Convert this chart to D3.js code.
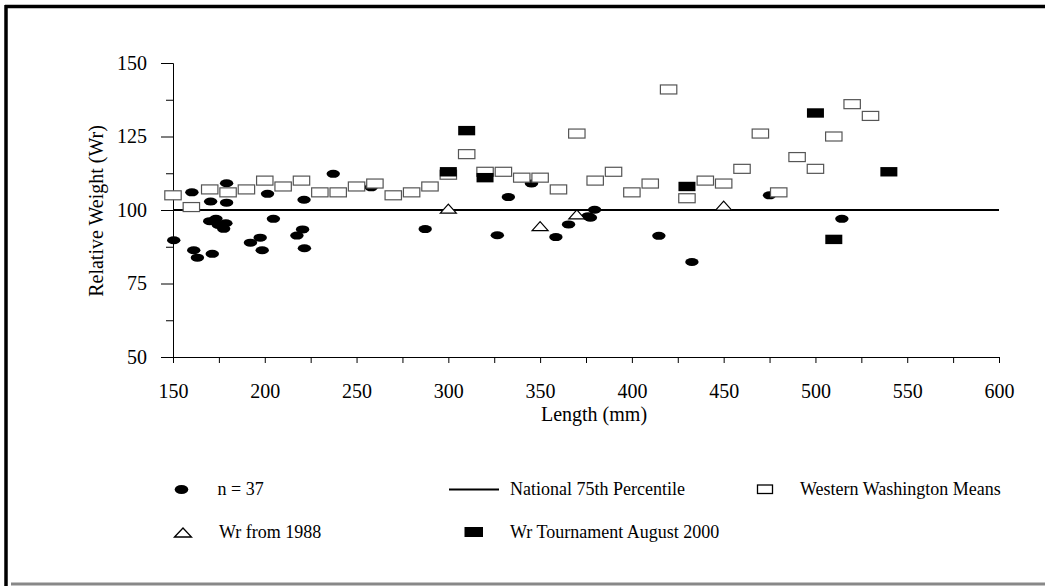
<!DOCTYPE html>
<html><head><meta charset="utf-8">
<script src="https://cdn.jsdelivr.net/npm/d3@7"></script>
<style>
body{margin:0;background:#fff}
svg{display:block}
text{font-family:"Liberation Serif","Times New Roman",serif;fill:#000}
</style>
</head><body>
<svg id="c" width="1045" height="586"></svg>
<script>
// n = 37 sample fish
const sampleLength = [150.4,160.3,170.5,179.2,179.2,161.3,163.3,171.4,170,173.4,174.7,177.6,178.8,192.2,197.5,198.6,204.7,201.5,221.4,217.5,220.6,221.6,237.3,258,287.4,332.7,326.7,345.3,358.6,365.5,377.4,376.2,379.7,414.7,432.7,475,514.4];
const sampleWr     = [89.7,106,102.9,109.1,102.5,86.3,83.8,85.1,96.2,97,94.9,93.6,95.5,88.9,90.6,86.3,97,105.5,103.5,91.3,93.4,87,112.3,107.7,93.5,104.4,91.4,109,90.8,95.1,97.4,97.9,100.1,91.2,82.3,105,97];
// National 75th percentile
const nationalLength = [150,600];
const nationalWr = [100,100];
// Western Washington means
const wwLength = [150,160,170,180,190,200,210,220,230,240,250,260,270,280,290,300,310,320,330,340,350,360,370,380,390,400,410,420,430,440,450,460,470,480,490,500,510,520,530];
const wwWr     = [105,101,107,106,107,110,108,110,106,106,108,109,105,106,108,112,119,113,113,111,111,107,126,110,113,106,109,141,104,110,109,114,126,106,118,114,125,136,132];
// Wr from 1988
const y1988Length = [300,350,370,450];
const y1988Wr = [100.5,94.5,98.5,101.5];
// Wr Tournament August 2000
const tournLength = [300,310,320,430,500,510,540];
const tournWr = [113,127,111,108,133,90,113];
// ticks
const xMajorTicks = [150,200,250,300,350,400,450,500,550,600];
const xMinorTicks = [175,225,275,325,375,425,475,525,575];
const yMajorTicks = [50,75,100,125,150];
const yMinorTicks = [62.5,87.5,112.5,137.5];
const legendLabels = ["n = 37","National 75th Percentile","Western Washington Means","Wr from 1988","Wr Tournament August 2000"];

const svg = d3.select("#c");
const x = d3.scaleLinear().domain([150,600]).range([173,999]);
const y = d3.scaleLinear().domain([50,150]).range([357,63]);

// frame
svg.append("rect").attr("x",0).attr("y",0).attr("width",1045).attr("height",586).attr("fill","#fff");
svg.append("line").attr("x1",5).attr("x2",1045).attr("y1",6.5).attr("y2",6.5).attr("stroke","#000").attr("stroke-width",3.5);
svg.append("line").attr("x1",6).attr("x2",6).attr("y1",5).attr("y2",586).attr("stroke","#000").attr("stroke-width",3.5);
svg.append("line").attr("x1",11).attr("x2",1045).attr("y1",584).attr("y2",584).attr("stroke","#888").attr("stroke-width",3);

// axes
const gx = svg.append("g").attr("transform","translate(0,357)");
gx.call(d3.axisBottom(x).tickValues(xMajorTicks).tickSize(6).tickSizeOuter(0));
gx.append("g").call(d3.axisBottom(x).tickValues(xMinorTicks).tickSize(6).tickSizeOuter(0).tickFormat(""));
gx.selectAll(".domain").attr("stroke","#000");
gx.selectAll("line").attr("stroke","#000");
gx.selectAll("text").attr("font-size",20).attr("y",41).attr("dy",0).attr("font-family","Liberation Serif").attr("fill","#000");

const gy = svg.append("g").attr("transform","translate(173,0)");
gy.call(d3.axisLeft(y).tickValues(yMajorTicks).tickSize(12).tickSizeOuter(0).tickPadding(14));
gy.append("g").call(d3.axisLeft(y).tickValues(yMinorTicks).tickSize(7).tickSizeOuter(0).tickFormat(""));
gy.selectAll(".domain").attr("stroke","#000");
gy.selectAll("line").attr("stroke","#000");
gy.selectAll("text").attr("font-size",20).attr("font-family","Liberation Serif").attr("fill","#000");

svg.append("text").attr("x",594).attr("y",421).attr("text-anchor","middle").attr("font-size",20).text("Length (mm)");
svg.append("text").attr("transform","translate(103,211) rotate(-90)").attr("text-anchor","middle").attr("font-size",20).text("Relative Weight (Wr)");

// series: circles
const sample = sampleLength.map((l,i)=>({l, w: sampleWr[i]}));
svg.append("g").selectAll("ellipse").data(sample).join("ellipse")
  .attr("cx",d=>x(d.l)).attr("cy",d=>y(d.w)).attr("rx",6.7).attr("ry",4).attr("fill","#000");

// national line
const line = d3.line().x((d,i)=>x(nationalLength[i])).y(d=>y(d));
svg.append("path").attr("d",line(nationalWr)).attr("stroke","#000").attr("stroke-width",2).attr("fill","none");

// Western Washington means
const ww = wwLength.map((l,i)=>({l, w: wwWr[i]}));
svg.append("g").selectAll("rect").data(ww).join("rect")
  .attr("x",d=>x(d.l)-8.2).attr("y",d=>y(d.w)-4.5).attr("width",16.4).attr("height",9)
  .attr("fill","#fff").attr("stroke","#555").attr("stroke-width",1.2);

// 1988 triangles
const tri = y1988Length.map((l,i)=>({l, w: y1988Wr[i]}));
svg.append("g").selectAll("path").data(tri).join("path")
  .attr("d",d=>{const cx=x(d.l), cy=y(d.w); return `M${cx-8},${cy+4.5}L${cx},${cy-4.5}L${cx+8},${cy+4.5}Z`;})
  .attr("fill","#fff").attr("stroke","#000").attr("stroke-width",1.2);

// Tournament
const tn = tournLength.map((l,i)=>({l, w: tournWr[i]}));
svg.append("g").selectAll("rect").data(tn).join("rect")
  .attr("x",d=>x(d.l)-8.5).attr("y",d=>y(d.w)-4.7).attr("width",17).attr("height",9.4)
  .attr("fill","#000");

// legend
const lg = svg.append("g");
lg.append("ellipse").attr("cx",181.5).attr("cy",489.5).attr("rx",6.8).attr("ry",4.5).attr("fill","#000");
lg.append("line").attr("x1",449).attr("x2",499).attr("y1",489.5).attr("y2",489.5).attr("stroke","#000").attr("stroke-width",2);
lg.append("rect").attr("x",757.5).attr("y",485).attr("width",15).attr("height",8.5).attr("fill","#fff").attr("stroke","#000").attr("stroke-width",1.3);
lg.append("path").attr("d","M174.5,537L183,528L191.5,537Z").attr("fill","#fff").attr("stroke","#000").attr("stroke-width",1.3);
lg.append("rect").attr("x",464.5).attr("y",527).attr("width",18.5).attr("height",10).attr("fill","#000");
const legPos = [[217.5,495],[510,495],[800,495],[219,538],[510,538]];
legendLabels.forEach((t,i)=>{
  lg.append("text").attr("x",legPos[i][0]).attr("y",legPos[i][1]).attr("font-size",18).text(t);
});
</script>
</body></html>
